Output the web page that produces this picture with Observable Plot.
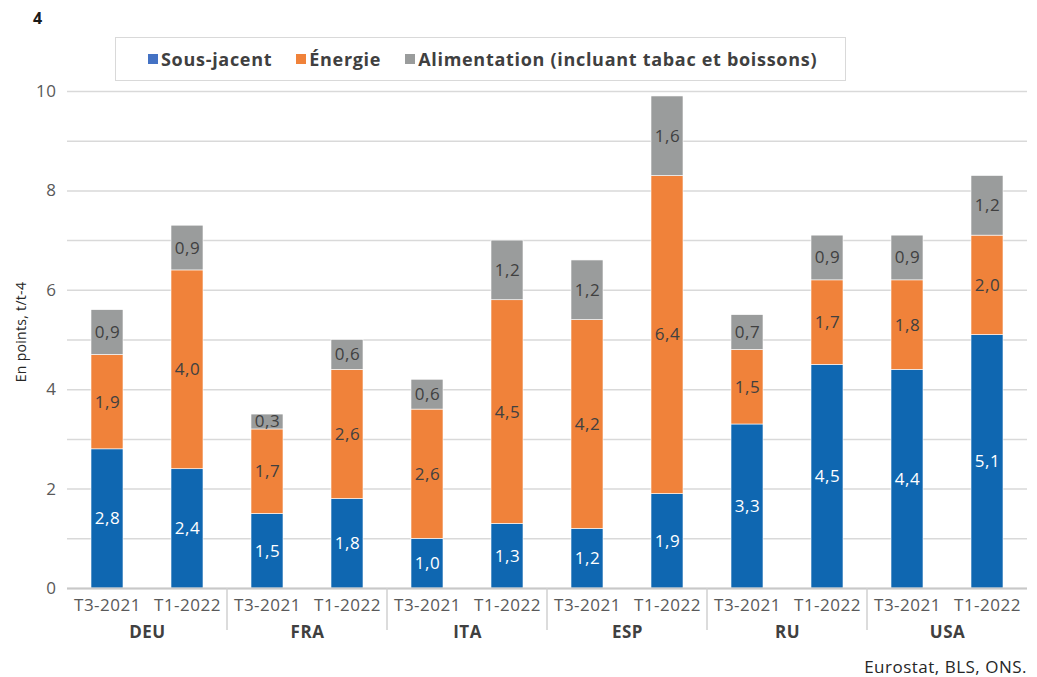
<!DOCTYPE html>
<html><head><meta charset="utf-8">
<script src="https://cdn.jsdelivr.net/npm/d3@7"></script>
<script src="https://cdn.jsdelivr.net/npm/@observablehq/plot@0.6"></script>
<style>
body{margin:0;background:#fff;font-family:"Open Sans",sans-serif;}
#wrap{position:relative;width:1037px;height:677px;overflow:hidden;}
#wrap svg{position:absolute;left:0;top:0;}
#wrap svg text{letter-spacing:0.5px;}
.num{position:absolute;left:33px;top:7px;font-weight:bold;font-size:16px;color:#1a1a1a;}
.legend{position:absolute;left:115px;top:37px;width:731px;height:44px;border:1px solid #d9d9d9;box-sizing:border-box;display:flex;align-items:center;padding-left:32px;gap:24px;font-weight:bold;font-size:18px;color:#404040;letter-spacing:0.7px;}
.legend .it{display:flex;align-items:center;}
.legend .sw{width:10px;height:10px;margin-right:3px;display:inline-block;}
.ylab{position:absolute;left:20px;top:332px;transform:translate(-50%,-50%) rotate(-90deg);font-size:14px;color:#262626;white-space:nowrap;letter-spacing:0.3px;}
.src{position:absolute;right:10px;top:657px;font-size:17px;line-height:20px;color:#262626;letter-spacing:0.5px;}
</style></head><body><div id="wrap"></div>
<script>
const countries = ["DEU","FRA","ITA","ESP","RU","USA"];
const periods = ["T3-2021","T1-2022"];
const series = ["Sous-jacent","Énergie","Alimentation (incluant tabac et boissons)"];
const colors = ["#0f67b1","#f0823a","#9a9c9c"];
const legendColors = ["#4472c4","#f0823a","#9a9c9c"];
// values per bar, in order DEU T3, DEU T1, FRA T3, FRA T1, ... USA T1
const sousJacent   = [2.8, 2.4, 1.5, 1.8, 1.0, 1.3, 1.2, 1.9, 3.3, 4.5, 4.4, 5.1];
const energie      = [1.9, 4.0, 1.7, 2.6, 2.6, 4.5, 4.2, 6.4, 1.5, 1.7, 1.8, 2.0];
const alimentation = [0.9, 0.9, 0.3, 0.6, 0.6, 1.2, 1.2, 1.6, 0.7, 0.9, 0.9, 1.2];
const yTickLabels = [0, 2, 4, 6, 8, 10];
const gridTicks = [0, 1, 2, 3, 4, 5, 6, 7, 8, 9, 10];
const title = "4";
const yLabel = "En points, t/t-4";
const source = "Eurostat, BLS, ONS.";

const seriesValues = [sousJacent, energie, alimentation];
const data = [];
countries.forEach((c, i) => periods.forEach((p, j) => {
  const k = i * 2 + j;
  seriesValues.forEach((arr, s) => data.push({country: c, period: p, series: series[s], value: arr[k]}));
}));
const fmt = v => v.toFixed(1).replace(".", ",");

const plot = Plot.plot({
  width: 1037, height: 677,
  marginLeft: 67, marginRight: 10, marginTop: 91, marginBottom: 89,
  style: {fontFamily: "Open Sans, sans-serif", fontSize: "16px", background: "transparent", overflow: "visible"},
  fx: {domain: countries, padding: 0, label: null},
  x: {domain: periods, paddingInner: 0.6, paddingOuter: 0.3, label: null},
  y: {domain: [0, 10], label: null},
  color: {domain: series, range: colors},
  marks: [
    Plot.gridY(gridTicks, {stroke: "#d9d9d9", strokeOpacity: 1, strokeWidth: 1.5}),
    Plot.barY(data, {fx: "country", x: "period", y: "value", fill: "series", z: "series", stroke: "white", strokeWidth: 0.6}),
    Plot.text(data, Plot.stackY({fx: "country", x: "period", y: "value", z: "series",
      text: d => d.series === series[0] ? fmt(d.value) : "", fill: "white", fontSize: 17})),
    Plot.text(data, Plot.stackY({fx: "country", x: "period", y: "value", z: "series",
      text: d => d.series !== series[0] ? fmt(d.value) : "", fill: "#404040", fontSize: 17})),
    Plot.ruleY([0], {stroke: "#c8c8c8", strokeWidth: 2}),
    Plot.axisY(yTickLabels, {tickSize: 0, tickPadding: 11, fill: "#595959", fontSize: 17, tickFormat: d => String(d), label: null}),
    Plot.axisX({tickSize: 0, tickPadding: 10, fill: "#595959", fontSize: 17, label: null}),
    Plot.axisFx({anchor: "bottom", tickSize: 0, tickPadding: 37, fontWeight: "bold", fill: "#404040", fontSize: 17, label: null})
  ]
});

// group separators below the axis, at facet boundaries
const fxs = plot.scale("fx"), ys = plot.scale("y");
const y0 = ys.apply(0);
d3.select(plot).append("g").attr("stroke", "#d0d0d0").attr("stroke-width", 1.5)
  .selectAll("line").data(countries.slice(1)).join("line")
  .attr("x1", c => fxs.apply(c)).attr("x2", c => fxs.apply(c))
  .attr("y1", y0).attr("y2", y0 + 42);

const wrap = document.getElementById("wrap");
wrap.appendChild(plot);
const t = document.createElement("div"); t.className = "num"; t.textContent = title; wrap.appendChild(t);
const lg = document.createElement("div"); lg.className = "legend";
series.forEach((s, i) => {
  const it = document.createElement("span"); it.className = "it";
  const sw = document.createElement("span"); sw.className = "sw"; sw.style.background = legendColors[i];
  it.appendChild(sw); it.appendChild(document.createTextNode(s)); lg.appendChild(it);
});
wrap.appendChild(lg);
const yl = document.createElement("div"); yl.className = "ylab"; yl.textContent = yLabel; wrap.appendChild(yl);
const sr = document.createElement("div"); sr.className = "src"; sr.textContent = source; wrap.appendChild(sr);
</script></body></html>
